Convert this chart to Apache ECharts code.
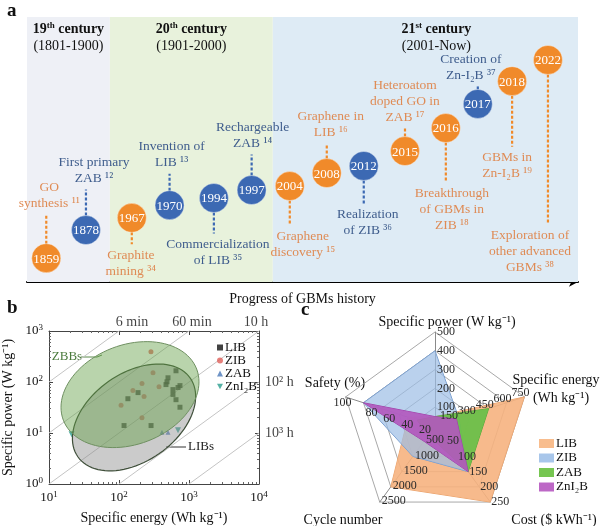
<!DOCTYPE html>
<html><head><meta charset="utf-8">
<script src="https://cdn.jsdelivr.net/npm/echarts@6/dist/echarts.min.js"></script>
<style>html,body{margin:0;padding:0;background:#fff}#c{width:600px;height:526px}</style>
</head><body><div id="c"></div>
<script>
// ===================== DATA =====================
// Panel a: timeline
const years = [1859,1878,1967,1970,1994,1997,2004,2008,2012,2015,2016,2017,2018,2022];
const kinds = ['G','B','G','B','B','B','G','G','B','G','G','B','G','G']; // G = graphene milestone, B = battery milestone
const events = [
  ['GO','synthesis ¹¹'],
  ['First primary','ZAB ¹²'],
  ['Graphite','mining ³⁴'],
  ['Invention of','LIB ¹³'],
  ['Commercialization','of LIB ³⁵'],
  ['Rechargeable','ZAB ¹⁴'],
  ['Graphene','discovery ¹⁵'],
  ['Graphene in','LIB ¹⁶'],
  ['Realization','of ZIB ³⁶'],
  ['Heteroatom','doped GO in','ZAB ¹⁷'],
  ['Breakthrough','of GBMs in','ZIB ¹⁸'],
  ['Creation of','Zn-I₂B ³⁷'],
  ['GBMs in','Zn-I₂B ¹⁹'],
  ['Exploration of','other advanced','GBMs ³⁸']
];
const centuryNum = ['19','20','21'];
const centurySuf = ['th','th','st'];
const centuryRange = ['(1801-1900)','(1901-2000)','(2001-Now)'];

// Panel b: Ragone plot (specific energy Wh/kg, specific power W/kg)
const libPts   = [[652,166],[501,121],[485,101],[469,89],[743,85],[697,78],[590,71],[590,57],[652,45],[743,32],[134,47],[187,62],[118,14],[287,14]];
const zibPts   = [[286,390],[306,152],[213,93],[373,81],[158,68],[228,52],[107,35],[213,20]];
const zabPts   = [[411,10.3],[501,10.3]];
const zni2bPts = [[697,11.3],[21,9.4]];
const timeHours  = [0.1, 1, 10, 100, 1000];
const timeLabels = ['6 min','60 min','10 h','10² h','10³ h'];
const regionNames   = ['LIBs','ZBBs'];
const regionCenters = [[164,20.2],[143.6,56.6]];   // data units
const regionAxes    = [[0.98,0.63],[1.02,0.71]];   // semi-axes in decades
const regionTilt    = [35,21];                     // degrees

// Panel c: radar (ECharts radar runs counter-clockwise from the top)
const radarAxes = ['Specific power','Safety','Cycle number','Cost','Specific energy'];
const radarMax  = [500,100,2500,250,750];
const radarLIB   = [50,30,2000,250,750];
const radarZIB   = [400,80,1000,150,200];
const radarZAB   = [50,20,300,150,450];
const radarZnI2B = [50,80,500,150,180];

// ===================== LAYOUT =====================
const slot     = [0,1.03,2.22,3.2,4.35,5.33,6.32,7.28,8.24,9.31,10.37,11.2,12.09,13.02];
const level    = [0.9,1.96,2.42,2.9,3.17,3.47,3.62,4.11,4.38,4.94,5.81,6.72,7.58,8.38];
const stemDir  = [1,1,-1,1,-1,1,-1,1,-1,1,-1,1,-1,-1];
const stemLen  = [32,29,15,20,24,24,28,18,26,11,43,6,54,153];
const labelDx  = [3,8,-1,2,4,1,13,4,4,0,6,-7,-5,-18];
const bandX    = [[-0.5,1.65],[1.65,5.88],[5.88,13.8]];
const bandColor= ['#eef0f6','#e8f2dc','#deebf5'];
const bandDx   = [0,0,11];
const RC = [435,426], RR = 94;               // radar centre / radius
const radarLabAlign = ['left','center','left','left','center'];
const radarLabOff   = [[2,0],[8,10],[2,-1],[1,0],[-4,-4]];

const ORANGE='#f08a2a', BLUE='#3c69b3', OTXT='#df8b55', BTXT='#3f5d8d';
const SERIF='"Liberation Serif","Times New Roman",serif';

const chart = echarts.init(document.getElementById('c'));

function supLabel(v){
  const e = Math.round(Math.log10(v));
  return '{n|10}{s|' + e + '}';
}
const supRich = {n:{fontFamily:SERIF,fontSize:13,color:'#111'}, s:{fontFamily:SERIF,fontSize:9,color:'#111',verticalAlign:'top',padding:[0,0,6,0]}};

const logAxisCommon = {
  type:'log', logBase:10, gridIndex:1,
  axisLine:{show:true,lineStyle:{color:'#444',width:1}},
  axisTick:{show:true,inside:true,length:4,lineStyle:{color:'#444'}},
  minorTick:{show:true,splitNumber:9,length:2,lineStyle:{color:'#666'}},
  splitLine:{show:false}
};

// radar tick labels (placed along each indicator axis)
const radarTickText = [];
radarMax.forEach((m,i)=>{
  const ang = (90 + 72*i) * Math.PI/180;
  const dx = Math.cos(ang), dy = -Math.sin(ang);
  for(let k=1;k<=5;k++){
    const r = RR*k/5;
    let off = radarLabOff[i];
    if(i===1 && k===5) off=[-3,6];
    radarTickText.push({type:'text',z:100,x:RC[0]+dx*r+off[0],y:RC[1]+dy*r+off[1],
      style:{text:String(m*k/5),align:radarLabAlign[i],verticalAlign:'middle',fontFamily:SERIF,fontSize:12,fill:'#2a2a2a'}});
  }
});

const option = {
  animation:false,
  textStyle:{fontFamily:SERIF},
  grid:[
    {left:27,right:22,top:17,bottom:244},
    {left:49,right:341,top:331,bottom:41}
  ],
  xAxis:[
    {type:'value',gridIndex:0,min:-0.5,max:13.8,
     axisLine:{show:true,lineStyle:{color:'#000',width:2},symbol:['none','arrow'],symbolSize:[7,9]},
     axisTick:{show:false},axisLabel:{show:false},splitLine:{show:false},
     name:'Progress of GBMs history',nameLocation:'middle',nameGap:10,
     nameTextStyle:{fontFamily:SERIF,fontSize:14,color:'#111'}},
    Object.assign({},logAxisCommon,{position:'bottom',min:10,max:10000,
     axisLabel:{formatter:supLabel,rich:supRich,margin:6},
     name:'Specific energy (Wh kg⁻¹)',nameLocation:'middle',nameGap:27,
     nameTextStyle:{fontFamily:SERIF,fontSize:14,color:'#111'}}),
    Object.assign({},logAxisCommon,{position:'top',min:10,max:10000,axisLabel:{show:false}})
  ],
  yAxis:[
    {type:'value',gridIndex:0,min:0,max:10,show:false},
    Object.assign({},logAxisCommon,{position:'left',min:1,max:1000,
     axisLabel:{formatter:supLabel,rich:supRich,margin:6},
     name:'Specific power (W kg⁻¹)',nameLocation:'middle',nameGap:34,
     nameTextStyle:{fontFamily:SERIF,fontSize:14,color:'#111'}}),
    Object.assign({},logAxisCommon,{position:'right',min:1,max:1000,axisLabel:{show:false}})
  ],
  radar:{
    center:RC, radius:RR, startAngle:90, splitNumber:5, shape:'polygon',
    indicator: radarAxes.map((n,i)=>({name:n,min:0,max:radarMax[i]})),
    axisName:{show:false},
    axisLine:{lineStyle:{color:'#8a8a8a'}},
    splitLine:{lineStyle:{color:'#a8a8a8',width:1}},
    splitArea:{show:false},
    axisLabel:{show:false}
  },
  legend:[
    {data:['LIB','ZIB','ZAB','ZnI₂B'],orient:'vertical',left:212,top:336,
     itemWidth:6,itemHeight:6,itemGap:0,
     textStyle:{fontFamily:SERIF,fontSize:13,color:'#111',lineHeight:11,padding:[0,0,0,-3]}},
    {data:['r:LIB','r:ZIB','r:ZAB','r:ZnI₂B'],orient:'vertical',left:534,top:432,
     icon:'rect',itemWidth:15,itemHeight:9,itemGap:1.5,formatter:(n)=>n.slice(2),
     textStyle:{fontFamily:SERIF,fontSize:13,color:'#111',lineHeight:9,padding:[0,0,0,-3]}}
  ],
  series:[
    // ---- panel a: century bands ----
    {type:'custom',xAxisIndex:0,yAxisIndex:0,silent:true,z:1,
     data: bandX.map((b,i)=>[b[0],b[1],i]),
     renderItem:(params,api)=>{
       const i = params.dataIndex;
       const p0 = api.coord([api.value(0),10]);
       const p1 = api.coord([api.value(1),0]);
       return {type:'group',children:[
         {type:'rect',shape:{x:p0[0],y:p0[1],width:p1[0]-p0[0],height:p1[1]-p0[1]},style:{fill:bandColor[i]}},
         {type:'text',style:{
           text:'{b|'+centuryNum[i]+'}{s|'+centurySuf[i]+'}{b| century}\n{n|'+centuryRange[i]+'}',
           x:(p0[0]+p1[0])/2+bandDx[i], y:p0[1]+4, align:'center', verticalAlign:'top',
           rich:{
             b:{fontFamily:SERIF,fontSize:14,fontWeight:'bold',fill:'#111',lineHeight:17},
             s:{fontFamily:SERIF,fontSize:9,fontWeight:'bold',fill:'#111',verticalAlign:'top',lineHeight:17},
             n:{fontFamily:SERIF,fontSize:14,fill:'#111',lineHeight:17}
           }}}
       ]};
     }},
    // ---- panel a: milestones ----
    {type:'custom',xAxisIndex:0,yAxisIndex:0,silent:true,z:3,
     data: years.map((y,i)=>[slot[i],level[i],y]),
     renderItem:(params,api)=>{
       const i = params.dataIndex;
       const p = api.coord([api.value(0),api.value(1)]);
       const r = 14.5, dir = stemDir[i];
       const col = kinds[i]==='G'?ORANGE:BLUE;
       const tcol = kinds[i]==='G'?OTXT:BTXT;
       const anchor = p[1] - dir*(r+stemLen[i]);
       return {type:'group',children:[
         {type:'line',shape:{x1:p[0],y1:p[1]-dir*r,x2:p[0],y2:anchor+dir*3},
          style:{stroke:col,lineWidth:2.2,lineDash:[3,2]}},
         {type:'circle',shape:{cx:p[0],cy:p[1],r:r},style:{fill:col,stroke:'rgba(255,255,255,0.35)',lineWidth:1}},
         {type:'text',style:{text:String(years[i]),x:p[0],y:p[1]+1,align:'center',verticalAlign:'middle',
          fill:'#fff',fontFamily:SERIF,fontSize:13}},
         {type:'text',style:{text:events[i].join('\n'),x:p[0]+labelDx[i],y:anchor,align:'center',
          verticalAlign:dir>0?'bottom':'top',fill:tcol,fontFamily:SERIF,fontSize:13.5,lineHeight:16}}
       ]};
     }},
    // ---- panel b: time iso-lines ----
    ...timeHours.map(t=>({type:'line',xAxisIndex:1,yAxisIndex:1,silent:true,symbol:'none',z:1,clip:true,
      data:[[10,10/t],[10000,10000/t]],lineStyle:{color:'#c4c4c4',width:1}})),
    // ---- panel b: scatter (beneath the translucent regions) ----
    {type:'scatter',name:'LIB',xAxisIndex:1,yAxisIndex:1,data:libPts,symbol:'rect',symbolSize:5,itemStyle:{color:'#111'},z:2},
    {type:'scatter',name:'ZIB',xAxisIndex:1,yAxisIndex:1,data:zibPts,symbol:'circle',symbolSize:5,itemStyle:{color:'#e0605a'},z:2},
    {type:'scatter',name:'ZAB',xAxisIndex:1,yAxisIndex:1,data:zabPts,symbol:'triangle',symbolSize:5,itemStyle:{color:'#4a78b8'},z:2},
    {type:'scatter',name:'ZnI₂B',xAxisIndex:1,yAxisIndex:1,data:zni2bPts,symbol:'path://M0,0L10,0L5,9Z',symbolSize:6,itemStyle:{color:'#2a9d8f'},z:2},
    // regions
    {type:'custom',xAxisIndex:1,yAxisIndex:1,silent:true,z:3,
     data: regionCenters.map((c,i)=>[c[0],c[1],i]),
     renderItem:(params,api)=>{
       const i = params.dataIndex;
       const c = api.coord([api.value(0),api.value(1)]);
       const c10 = api.coord([api.value(0)*10,api.value(1)]);
       const dec = c10[0]-c[0];
       const a = regionAxes[i][0]*dec, b = regionAxes[i][1]*dec, th = regionTilt[i]*Math.PI/180;
       const pts=[];
       for(let k=0;k<=96;k++){
         const t=2*Math.PI*k/96, ux=a*Math.cos(t), uy=b*Math.sin(t);
         pts.push([c[0]+ux*Math.cos(th)-uy*Math.sin(th), c[1]-(ux*Math.sin(th)+uy*Math.cos(th))]);
       }
       const lib = i===0;
       return {type:'polygon',shape:{points:pts},
         style:{fill: lib?'rgba(140,140,140,0.45)':'rgba(100,160,70,0.45)',
                stroke: lib?'#3f4f3a':'#6e8f60', lineWidth: lib?1.2:1}};
     }},
    // time labels
    {type:'scatter',xAxisIndex:1,yAxisIndex:1,silent:true,symbolSize:0,clip:false,z:4,
     data: timeHours.map((t,i)=> i<3 ? {value:[1000*t,1000],label:{position:'top',distance:2,offset:[[13,3,-3][i],0]}}
                                  : {value:[10000,10000/t],label:{position:'right',distance:6}}),
     label:{show:true,fontFamily:SERIF,fontSize:14,color:'#111',formatter:(p)=>timeLabels[p.dataIndex]}},
    // ---- panel c: radar ----
    {type:'radar',name:'r:LIB',symbol:'none',data:[{value:radarLIB,name:'r:LIB'}],
     lineStyle:{color:'#e9a36e',width:1},areaStyle:{color:'#f6b37f',opacity:0.9},itemStyle:{color:'#f8bd8e'}},
    {type:'radar',name:'r:ZIB',symbol:'none',data:[{value:radarZIB,name:'r:ZIB'}],
     lineStyle:{color:'#6d93c6',width:1},areaStyle:{color:'#9dbde6',opacity:0.7},itemStyle:{color:'#a8c6ea'}},
    {type:'radar',name:'r:ZAB',symbol:'none',data:[{value:radarZAB,name:'r:ZAB'}],
     lineStyle:{color:'#58a83a',width:1},areaStyle:{color:'#6cc04a',opacity:0.95},itemStyle:{color:'#76c651'}},
    {type:'radar',name:'r:ZnI₂B',symbol:'none',data:[{value:radarZnI2B,name:'r:ZnI₂B'}],
     lineStyle:{color:'#9a45a6',width:1},areaStyle:{color:'#b257be',opacity:0.9},itemStyle:{color:'#bd68c6'}}
  ],
  graphic:[
    {type:'text',left:7,top:2,style:{text:'a',fontFamily:SERIF,fontSize:19,fontWeight:'bold',fill:'#111'}},
    {type:'text',left:7,top:299,style:{text:'b',fontFamily:SERIF,fontSize:19,fontWeight:'bold',fill:'#111'}},
    {type:'text',left:301,top:301,style:{text:'c',fontFamily:SERIF,fontSize:19,fontWeight:'bold',fill:'#111'}},
    // region callouts
    {type:'text',x:67,y:357,style:{text:'ZBBs',align:'center',verticalAlign:'middle',fontFamily:SERIF,fontSize:13,fill:'#4a7a3c'}},
    {type:'polyline',shape:{points:[[81,357],[97,357],[102,355]]},style:{stroke:'#5a8a4a',lineWidth:1}},
    {type:'text',x:188,y:447,style:{text:'LIBs',align:'left',verticalAlign:'middle',fontFamily:SERIF,fontSize:13,fill:'#222'}},
    {type:'line',shape:{x1:166,y1:447,x2:186,y2:447},style:{stroke:'#333',lineWidth:1}},
    // radar axis names
    {type:'text',x:447,y:322,style:{text:'Specific power (W kg⁻¹)',align:'center',verticalAlign:'middle',fontFamily:SERIF,fontSize:14,fill:'#111'}},
    {type:'text',x:556,y:380,style:{text:'Specific energy',align:'center',verticalAlign:'middle',fontFamily:SERIF,fontSize:14,fill:'#111'}},
    {type:'text',x:561,y:398,style:{text:'(Wh kg⁻¹)',align:'center',verticalAlign:'middle',fontFamily:SERIF,fontSize:14,fill:'#111'}},
    {type:'text',x:554,y:520,style:{text:'Cost ($ kWh⁻¹)',align:'center',verticalAlign:'middle',fontFamily:SERIF,fontSize:14,fill:'#111'}},
    {type:'text',x:343,y:520,style:{text:'Cycle number',align:'center',verticalAlign:'middle',fontFamily:SERIF,fontSize:14,fill:'#111'}},
    {type:'text',x:335,y:383,style:{text:'Safety (%)',align:'center',verticalAlign:'middle',fontFamily:SERIF,fontSize:14,fill:'#111'}},
    ...radarTickText
  ]
};
chart.setOption(option);
</script></body></html>
